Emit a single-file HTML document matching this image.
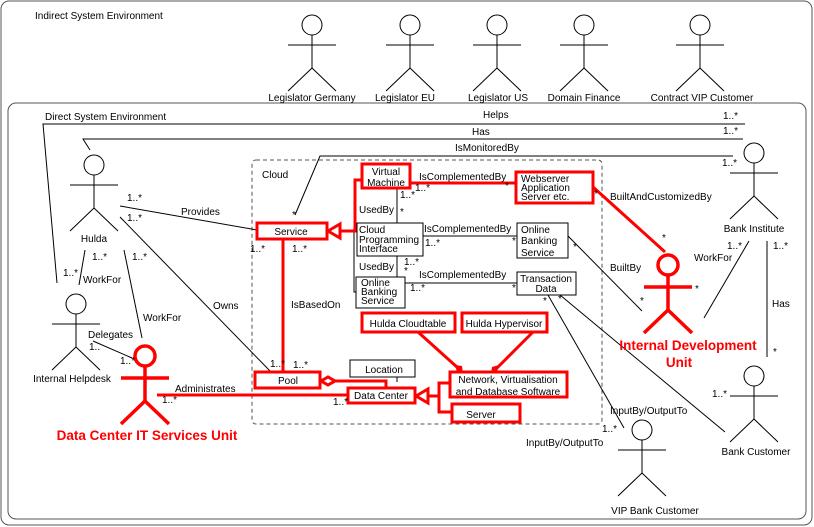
<!DOCTYPE html>
<html><head><meta charset="utf-8"><style>
html,body{margin:0;padding:0;background:#fff}
svg{display:block}
text{font-family:"Liberation Sans",sans-serif;font-size:10px;fill:#000}
.r{fill:#f00;font-weight:bold;font-size:13.5px}
.m{text-anchor:middle}
</style></head><body>
<svg width="814" height="527" viewBox="0 0 814 527" xmlns="http://www.w3.org/2000/svg">
<defs>
<g id="act" fill="none" stroke="#000" stroke-width="1">
<circle cx="0" cy="0" r="10" fill="#fff"/>
<line x1="-24" y1="20" x2="24" y2="20"/>
<line x1="0" y1="10" x2="0" y2="43"/>
<line x1="0" y1="43" x2="-24" y2="66"/>
<line x1="0" y1="43" x2="24" y2="66"/>
</g>
<g id="ract" fill="none" stroke="#f00" stroke-width="3.5">
<circle cx="0" cy="0" r="10" fill="#fff"/>
<line x1="-24" y1="22" x2="24" y2="22"/>
<line x1="0" y1="10" x2="0" y2="45"/>
<line x1="0" y1="45" x2="-24" y2="68"/>
<line x1="0" y1="45" x2="24" y2="68"/>
</g>
</defs>
<rect x="1" y="1" width="811" height="524" rx="8" fill="none" stroke="#555" stroke-width="1"/>
<rect x="8" y="103" width="798" height="416" rx="8" fill="none" stroke="#555" stroke-width="1"/>
<text x="35" y="19">Indirect System Environment</text>
<text x="45" y="120">Direct System Environment</text>

<!-- top actors -->
<g transform="translate(312,25) scale(1,1)"><use href="#act"/></g>
<use href="#act" x="410" y="25"/>
<use href="#act" x="497" y="25"/>
<use href="#act" x="584" y="25"/>
<use href="#act" x="700" y="25"/>
<text class="m" x="312" y="101">Legislator Germany</text>
<text class="m" x="405" y="101">Legislator EU</text>
<text class="m" x="498" y="101">Legislator US</text>
<text class="m" x="584" y="101">Domain Finance</text>
<text class="m" x="702" y="101">Contract VIP Customer</text>

<!-- Cloud -->
<rect x="252" y="160" width="350" height="264" rx="4" fill="none" stroke="#555" stroke-dasharray="4,3"/>
<text x="262" y="178">Cloud</text>

<g stroke="#000" stroke-width="1" fill="none">
<!-- Helps -->
<polyline points="745,124 43,124 57,283"/>
<!-- Has -->
<polyline points="743,139 83,139 90,150"/>
<!-- IsMonitoredBy -->
<polyline points="733,156 320,156 295,215"/>
<!-- Provides / Owns -->
<line x1="120" y1="206" x2="257" y2="230"/>
<line x1="120" y1="217" x2="271" y2="372"/>
<line x1="85" y1="250" x2="79" y2="285"/>
<line x1="124" y1="250" x2="142" y2="338"/>
<line x1="93" y1="341" x2="132" y2="358"/>
<!-- internal -->
<line x1="397" y1="188" x2="397" y2="223"/>
<line x1="397" y1="256" x2="397" y2="277"/>
<polyline points="357,231 354,231 354,292 356,292"/>
<line x1="423" y1="236" x2="517" y2="236"/>
<line x1="405" y1="283" x2="517" y2="283"/>
<line x1="397" y1="377" x2="397" y2="382"/>
<line x1="568" y1="236" x2="642" y2="311"/>
<line x1="548" y1="295" x2="624" y2="428"/>
<line x1="560" y1="295" x2="725" y2="432"/>
<line x1="749" y1="241" x2="704" y2="318"/>
<line x1="767" y1="241" x2="767" y2="357"/>
</g>

<!-- black boxes -->
<g fill="#fff" stroke="#000" stroke-width="1">
<rect x="357" y="223" width="66" height="33"/>
<rect x="517" y="223" width="51" height="35"/>
<rect x="356" y="277" width="49" height="31"/>
<rect x="517" y="272" width="59" height="23"/>
<rect x="350" y="360" width="65" height="17"/>
</g>

<!-- red connectors -->
<g stroke="#f00" stroke-width="3" fill="none">
<polyline points="362,180 355,180 355,231 340,231"/>
<line x1="283" y1="239" x2="283" y2="372"/>
<polyline points="335,381 386,381 386,388"/>
<polyline points="428,396 439,396"/>
<polyline points="450,383 439,383 439,412 452,412"/>
<line x1="410" y1="183" x2="516" y2="183"/>
<line x1="593" y1="187" x2="665" y2="252"/>
<line x1="157" y1="395" x2="348" y2="395"/>
<line x1="418" y1="332" x2="458" y2="368"/>
<line x1="533" y1="332" x2="497" y2="368"/>
<polygon points="328,231 340,224 340,238" fill="#fff"/>
<polygon points="416,396 428,389 428,403" fill="#fff"/>
<polygon points="321,381 328,377 335,381 328,385" fill="#fff"/>
</g>
<polygon points="455,365 462,366 463,374 457,372" fill="#f00"/>
<polygon points="499,365 492,367 491,374 497,372" fill="#f00"/>

<!-- red boxes -->
<g fill="#fff" stroke="#f00" stroke-width="3">
<rect x="257" y="223" width="70" height="16"/>
<rect x="362" y="164" width="48" height="24"/>
<rect x="516" y="172" width="77" height="31"/>
<rect x="362" y="313" width="93" height="19"/>
<rect x="462" y="313" width="85" height="19"/>
<rect x="255" y="372" width="65" height="16"/>
<rect x="348" y="388" width="67" height="15"/>
<rect x="450" y="372" width="117" height="25"/>
<rect x="452" y="404" width="68" height="18"/>
</g>

<!-- box texts -->
<text class="m" x="291" y="235">Service</text>
<text class="m" x="386" y="175">Virtual</text>
<text class="m" x="386" y="186">Machine</text>
<text x="521" y="182">Webserver</text>
<text x="521" y="191">Application</text>
<text x="521" y="200">Server etc.</text>
<text x="359" y="233">Cloud</text>
<text x="359" y="243">Programming</text>
<text x="359" y="252">Interface</text>
<text x="521" y="233">Online</text>
<text x="521" y="244">Banking</text>
<text x="521" y="256">Service</text>
<text x="361" y="286">Online</text>
<text x="361" y="295">Banking</text>
<text x="361" y="304">Service</text>
<text class="m" x="546" y="282">Transaction</text>
<text class="m" x="546" y="292">Data</text>
<text class="m" x="408" y="327">Hulda Cloudtable</text>
<text class="m" x="504" y="327">Hulda Hypervisor</text>
<text class="m" x="384" y="373">Location</text>
<text class="m" x="288" y="384">Pool</text>
<text class="m" x="381" y="399">Data Center</text>
<text class="m" x="508" y="383">Network, Virtualisation</text>
<text class="m" x="508" y="395">and Database Software</text>
<text class="m" x="481" y="418">Server</text>

<!-- actors -->
<use href="#act" x="94" y="165"/>
<text class="m" x="94" y="242">Hulda</text>
<use href="#act" x="754" y="153"/>
<text class="m" x="754" y="232">Bank Institute</text>
<use href="#act" x="76" y="304"/>
<text class="m" x="72" y="382">Internal Helpdesk</text>
<use href="#act" x="754" y="376"/>
<text class="m" x="756" y="455">Bank Customer</text>
<use href="#act" x="642" y="430"/>
<text class="m" x="655" y="514">VIP Bank Customer</text>
<use href="#ract" x="145" y="356"/>
<text class="r m" x="147" y="440">Data Center IT Services Unit</text>
<use href="#ract" x="668" y="265"/>
<text class="r m" x="688" y="350">Internal Development</text>
<text class="r m" x="679" y="367">Unit</text>

<!-- labels -->
<text x="483" y="118">Helps</text><text x="723" y="119">1..*</text>
<text x="472" y="135">Has</text><text x="723" y="134">1..*</text>
<text x="455" y="151">IsMonitoredBy</text><text x="722" y="166">1..*</text>
<text x="292" y="218">*</text>
<text x="181" y="215">Provides</text>
<text x="127" y="201">1..*</text><text x="127" y="221">1..*</text>
<text x="250" y="252">1..*</text><text x="292" y="252">1..*</text>
<text x="213" y="309">Owns</text>
<text x="291" y="308">IsBasedOn</text>
<text x="270" y="367">1..*</text><text x="293" y="368">1..*</text>
<text x="92" y="260">1..*</text><text x="63" y="276">1..*</text>
<text x="83" y="283">WorkFor</text>
<text x="132" y="260">1..*</text>
<text x="143" y="321">WorkFor</text>
<text x="88" y="338">Delegates</text>
<text x="89" y="350">1..</text><text x="120" y="364">1..*</text>
<text x="175" y="392">Administrates</text>
<text x="162" y="403">1..*</text><text x="333" y="405">1..*</text>
<text x="419" y="180">IsComplementedBy</text>
<text x="415" y="191">1..*</text><text x="505" y="189">*</text>
<text x="359" y="213">UsedBy</text>
<text x="400" y="198">1..*</text><text x="400" y="215">*</text>
<text x="424" y="232">IsComplementedBy</text>
<text x="425" y="246">1..*</text><text x="512" y="244">*</text>
<text x="359" y="270">UsedBy</text>
<text x="404" y="265">1..*</text><text x="404" y="274">*</text>
<text x="419" y="278">IsComplementedBy</text>
<text x="410" y="291">1..*</text><text x="512" y="291">*</text>
<text x="543" y="304">*</text><text x="558" y="302">*</text>
<text x="610" y="200">BuiltAndCustomizedBy</text>
<text x="594" y="197">*</text><text x="662" y="241">*</text>
<text x="610" y="271">BuiltBy</text>
<text x="573" y="250">*</text><text x="640" y="304">*</text>
<text x="694" y="261">WorkFor</text>
<text x="727" y="249">1..*</text><text x="695" y="292">*</text>
<text x="773" y="249">1..*</text>
<text x="772" y="307">Has</text><text x="773" y="355">*</text>
<text x="712" y="397">1..*</text>
<text x="610" y="414">InputBy/OutputTo</text>
<text x="526" y="446">InputBy/OutputTo</text>
<text x="602" y="432">1..*</text>
</svg>
</body></html>
